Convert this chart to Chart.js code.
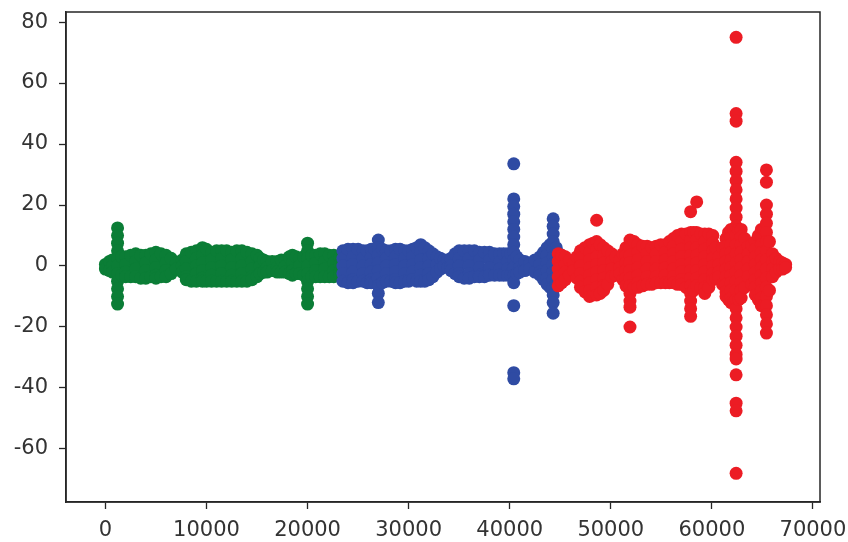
<!DOCTYPE html>
<html>
<head>
<meta charset="utf-8">
<script src="https://cdn.jsdelivr.net/npm/chart.js@4.4.1/dist/chart.umd.min.js"></script>
<style>
  html, body { margin: 0; padding: 0; background: #ffffff; }
  #c { display: block; }
</style>
</head>
<body>
<canvas id="c" width="848" height="542"></canvas>
<script>
// ---- Data ----
// Tick labels
const xTicks = [0, 10000, 20000, 30000, 40000, 50000, 60000, 70000];
const yTicks = [-60, -40, -20, 0, 20, 40, 60, 80];

// Series 1 (green): x positions and the y values observed at each x
const greenX = [0, 400, 700, 1200, 1600, 2000, 2500, 3000, 3500, 4000, 4500, 5000, 5500, 6000, 6500, 7000, 7600, 8000, 8500, 9000, 9600, 10000, 10500, 11000, 11500, 12000, 12500, 13000, 13500, 14000, 14500, 15000, 15300, 15650, 16000, 16500, 17000, 17400, 17800, 18200, 18500, 18850, 19200, 19600, 20000, 20400, 20800, 21250, 21700, 22150, 22600, 23200];
const greenY = [
  [0.5, -1],
  [1.5, -1.5],
  [2, 0, -2],
  [12.5, 10, 7.5, 5, 2.5, 0, -2.5, -5, -7.5, -10, -12.5],
  [3, -3],
  [3, 0.5, -2, -3.5],
  [3.5, -3.5],
  [4, 1.5, -1, -3.5],
  [3.5, -4],
  [3.5, 1, -1.5, -4],
  [4, -3.5],
  [4.5, 2, -0.5, -3, -4],
  [4, -3.5],
  [3.5, 1, -1.5, -3.5],
  [2.5, -2.5],
  [1, -1],
  [2, 0, -2],
  [4, 1.5, -1, -3.5, -4.5],
  [4.5, -5],
  [5, 2.5, 0, -2.5, -5],
  [6, 3.5, 1, -1.5, -4, -5],
  [5.5, -5],
  [4.5, 2, -0.5, -3, -5],
  [5, -5],
  [5, 2.5, 0, -2.5, -5],
  [5, -5],
  [4.5, 2, -0.5, -3, -5],
  [5, -5],
  [5, 2.5, 0, -2.5, -5],
  [4.5, -5],
  [4, 1.5, -1, -3.5, -4.5],
  [3.5, -3.5],
  [2.5, 0, -2.5],
  [2, -2],
  [1.5, -0.5, -2],
  [1.5, -1.5],
  [1.5, -0.5, -2],
  [2, -2],
  [2, 0, -2],
  [3, -2.5],
  [3.5, 1, -1.5, -3],
  [3, -2.5],
  [2.5, 0, -2.5],
  [3, -3],
  [7.5, 5, 2.5, 0, -2.5, -5, -7.5, -10, -12.5],
  [3.5, -3.5],
  [3.5, 1, -1.5, -3.5],
  [4, -3.5],
  [4, 1.5, -1, -3.5],
  [3.5, -3.5],
  [3.5, 1, -1.5, -3.5],
  [3, 0.5, -2, -3]
];

// Series 2 (blue)
const blueX = [23500, 24000, 24500, 25000, 25500, 25900, 26300, 26650, 27000, 27400, 27800, 28250, 28700, 29150, 29600, 30000, 30400, 30800, 31200, 31600, 32000, 32400, 32800, 33150, 33500, 33850, 34200, 34600, 35000, 35500, 36000, 36500, 37000, 37500, 38000, 38500, 39000, 39400, 39800, 40100, 40400, 40700, 41000, 41500, 42000, 42500, 43000, 43350, 43700, 44000, 44300, 44600, 44900];
const blueY = [
  [5, 2.5, 0, -2.5, -5],
  [5.5, -5.5],
  [5.5, 3, 0.5, -2, -4.5, -5.5],
  [5.5, -5],
  [5, 2.5, 0, -2.5, -5],
  [5, -5.5],
  [5.5, 3, 0.5, -2, -4.5, -5.5],
  [5.5, -5.5],
  [8.5, 6, 3.5, 1, -1.5, -4, -6.5, -9, -12],
  [5.5, -5.5],
  [5, 2.5, 0, -2.5, -5],
  [5, -5],
  [5.5, 3, 0.5, -2, -4.5, -5.5],
  [5.5, -5.5],
  [5, 2.5, 0, -2.5, -5],
  [5, -5],
  [5.5, 3, 0.5, -2, -4.5],
  [6, -5],
  [7, 4.5, 2, -0.5, -3, -5],
  [6, -5],
  [5, 2.5, 0, -2.5, -4.5],
  [4, -3.5],
  [3, 0.5, -2],
  [2.5, -1],
  [2, 0],
  [2, -0.5],
  [2.5, 0, -1.5],
  [4, -2.5],
  [5, 2.5, 0, -2.5, -3.5],
  [5, -4],
  [5, 2.5, 0, -2.5, -4],
  [5, -3.5],
  [4.5, 2, -0.5, -3, -3.5],
  [4.5, -3.5],
  [4.5, 2, -0.5, -3],
  [4, -3],
  [4, 1.5, -1, -3],
  [4, -3],
  [4, 1.5, -1, -3],
  [4, -3],
  [33.5, 22, 19.5, 17, 14.5, 12, 9.5, 7, 4.5, 2, -0.5, -3, -5.5, -13, -35, -37],
  [3, -2.5],
  [2, -0.5, -2],
  [1.5, -1.5],
  [1, -1],
  [2, -2],
  [3, 0.5, -2, -3],
  [4.5, -4.5],
  [6, 3.5, 1, -1.5, -4, -6],
  [7, -7],
  [15.5, 13, 10.5, 8, 5.5, 3, 0.5, -2, -4.5, -7, -9.5, -12, -15.5],
  [6, -6],
  [4, 1.5, -1, -3.5, -6]
];

// Series 3 (red)
const redX = [44800, 45150, 45500, 45900, 46300, 46650, 47000, 47450, 47900, 48250, 48600, 48950, 49300, 49700, 50100, 50500, 50900, 51200, 51500, 51900, 52300, 52700, 53150, 53600, 54050, 54500, 54950, 55400, 55800, 56200, 56600, 57000, 57450, 57900, 58200, 58500, 58900, 59300, 59700, 60100, 60400, 60700, 61050, 61400, 61650, 61900, 62150, 62400, 62650, 62900, 63250, 63600, 63950, 64300, 64600, 64900, 65150, 65400, 65700, 66000, 66350, 66700, 67000, 67300];
const redY = [
  [4, 1.5, -1, -3.5, -6.5],
  [3.5, -5.5],
  [3, 0.5, -2, -4.5],
  [2, -3],
  [1, -1.5],
  [3, -4],
  [5, 2.5, 0, -2.5, -5, -7],
  [6, -8.5],
  [7, 4.5, 2, -0.5, -3, -5.5, -8, -10],
  [7.5, -9.5],
  [15, 8, 5.5, 3, 0.5, -2, -4.5, -7, -9.5],
  [7, -9],
  [6, 3.5, 1, -1.5, -4, -6.5, -8],
  [5, -6],
  [4, 1.5, -1, -3.5],
  [3, -3],
  [2, -0.5, -2.5],
  [4, -4.5],
  [6, 3.5, 1, -1.5, -4, -6.5],
  [8.5, 6, 3.5, 1, -1.5, -4, -6.5, -9, -11.5, -13.5, -20],
  [8, -7],
  [7, 4.5, 2, -0.5, -3, -5.5, -7],
  [6.5, -6.5],
  [6.5, 4, 1.5, -1, -3.5, -6],
  [6, -6],
  [6.5, 4, 1.5, -1, -3.5, -5.5],
  [7, -5.5],
  [7, 4.5, 2, -0.5, -3, -5.5],
  [8, -5.5],
  [9, 6.5, 4, 1.5, -1, -3.5, -5.5],
  [10, -6],
  [10.5, 8, 5.5, 3, 0.5, -2, -4.5, -6],
  [10.5, -7],
  [17.8, 11, 8.5, 6, 3.5, 1, -1.5, -4, -6.5, -9, -11.5, -14, -16.5],
  [11, -8],
  [21, 11, 8.5, 6, 3.5, 1, -1.5, -4, -6.5],
  [10.5, -7],
  [10.5, 8, 5.5, 3, 0.5, -2, -4.5, -7, -9],
  [10.5, -7],
  [10, 7.5, 5, 2.5, 0, -2.5, -4.5],
  [6, -4],
  [3, 0.5, -2, -3.5],
  [6, -6],
  [9, 6.5, 4, 1.5, -1, -3.5, -6, -8.5, -10],
  [11, -11],
  [12, 9.5, 7, 4.5, 2, -0.5, -3, -5.5, -8, -10.5, -12],
  [12, -12],
  [75, 50, 47.5, 34, 31, 28, 25, 22, 19, 16, 13, 10, 7, 4, 1, -2, -5, -8, -11, -14, -17, -20, -23, -26, -29, -30.5, -35.7, -45, -47.5, -68],
  [12, -11],
  [12, 9.5, 7, 4.5, 2, -0.5, -3, -5.5, -8, -10.5],
  [9, -7],
  [6.5, 4, 1.5, -1, -3.5],
  [7, -6],
  [8, 5.5, 3, 0.5, -2, -4.5, -7, -9.5],
  [10, -11],
  [12, 9.5, 7, 4.5, 2, -0.5, -3, -5.5, -8, -10.5, -13],
  [12, -13],
  [31.5, 27.5, 20, 17, 14, 11, 8, 5, 2, -1, -4, -7, -10, -13, -16, -19, -22],
  [8, -8],
  [4, 1.5, -1, -3.5],
  [2.5, -2],
  [1.5, -1],
  [1, -1],
  [0.5, -0.5]
];

// ---- Build the point tables the library needs ----
function toPoints(xs, ys) {
  const pts = [];
  xs.forEach((x, i) => ys[i].forEach(y => pts.push({ x: x, y: y })));
  return pts;
}

const frame = {
  id: 'frame',
  afterDraw(chart) {
    const a = chart.chartArea, c = chart.ctx;
    c.save();
    c.strokeStyle = '#262626';
    c.lineWidth = 1.5;
    c.strokeRect(a.left, a.top, a.right - a.left, a.bottom - a.top);
    c.restore();
  }
};

const tickFont = { family: 'DejaVu Sans', size: 21 };
const plain = v => String(v);

new Chart(document.getElementById('c'), {
  type: 'scatter',
  data: {
    datasets: [
      { label: 'green', data: toPoints(greenX, greenY), backgroundColor: '#0b7d36', borderWidth: 0, pointRadius: 6.5, order: 2 },
      { label: 'blue', data: toPoints(blueX, blueY), backgroundColor: '#2f4ba3', borderWidth: 0, pointRadius: 6.5, order: 1 },
      { label: 'red', data: toPoints(redX, redY), backgroundColor: '#ec1c24', borderWidth: 0, pointRadius: 6.5, order: 0 }
    ]
  },
  options: {
    responsive: false,
    animation: false,
    events: [],
    layout: { padding: { left: 0, right: 28, top: 12, bottom: 0 } },
    plugins: { legend: { display: false }, tooltip: { enabled: false } },
    scales: {
      x: {
        type: 'linear',
        min: -3900,
        max: 70700,
        afterBuildTicks: s => { s.ticks = xTicks.map(v => ({ value: v })); },
        afterFit: s => { s.height = 40; s.paddingLeft = 0; s.paddingRight = 0; },
        grid: { drawOnChartArea: false, drawTicks: true, tickLength: 7, tickWidth: 1.3, tickColor: '#262626' },
        border: { display: true, color: '#262626', width: 1.5 },
        ticks: { font: tickFont, color: '#333333', padding: 9, maxRotation: 0, autoSkip: false, callback: plain }
      },
      y: {
        type: 'linear',
        min: -77.4,
        max: 83.3,
        afterBuildTicks: s => { s.ticks = yTicks.map(v => ({ value: v })); },
        afterFit: s => { s.width = 66; s.paddingTop = 0; s.paddingBottom = 0; },
        grid: { drawOnChartArea: false, drawTicks: true, tickLength: 7, tickWidth: 1.3, tickColor: '#262626' },
        border: { display: true, color: '#262626', width: 1.5 },
        ticks: { font: tickFont, color: '#333333', padding: 11, autoSkip: false, callback: plain }
      }
    }
  },
  plugins: [frame]
});
</script>
</body>
</html>
